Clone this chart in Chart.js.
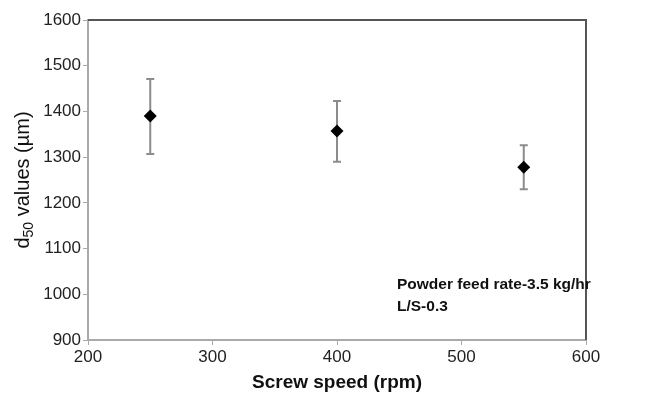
<!DOCTYPE html>
<html>
<head>
<meta charset="utf-8">
<script src="https://cdn.jsdelivr.net/npm/chart.js@4/dist/chart.umd.min.js"></script>
<style>
html,body{margin:0;padding:0;background:#fff;}
#wrap{width:665px;height:395px;position:relative;}
</style>
</head>
<body>
<div id="wrap"><canvas id="c" width="665" height="395"></canvas></div>
<script>
const screwSpeed = [250, 400, 550];
const d50Values = [1390, 1357, 1278];
const errTop = [1471, 1423, 1326];
const errBottom = [1307, 1290, 1230];
const xTicks = [200, 300, 400, 500, 600];
const yTicks = [900, 1000, 1100, 1200, 1300, 1400, 1500, 1600];
const xTitle = 'Screw speed (rpm)';
const yTitleParts = ['d', '50', ' values (µm)'];
const noteLines = ['Powder feed rate-3.5 kg/hr', 'L/S-0.3'];

const FONT = '"Liberation Sans", Arial, sans-serif';

const extras = {
  id: 'extras',
  beforeDatasetsDraw(chart) {
    const ctx = chart.ctx, xs = chart.scales.x, ys = chart.scales.y;
    ctx.save();
    ctx.strokeStyle = '#8c8c8c';
    ctx.lineWidth = 2;
    for (let i = 0; i < screwSpeed.length; i++) {
      const x = xs.getPixelForValue(screwSpeed[i]);
      const yt = ys.getPixelForValue(errTop[i]);
      const yb = ys.getPixelForValue(errBottom[i]);
      ctx.beginPath();
      ctx.moveTo(x, yt); ctx.lineTo(x, yb);
      ctx.moveTo(x - 4, yt); ctx.lineTo(x + 4, yt);
      ctx.moveTo(x - 4, yb); ctx.lineTo(x + 4, yb);
      ctx.stroke();
    }
    ctx.restore();
  },
  afterDraw(chart) {
    const ctx = chart.ctx, a = chart.chartArea;
    ctx.save();
    // top & right frame
    ctx.strokeStyle = '#555555';
    ctx.lineWidth = 2;
    ctx.beginPath();
    ctx.moveTo(a.left, a.top); ctx.lineTo(a.right, a.top); ctx.lineTo(a.right, a.bottom);
    ctx.stroke();
    // y title with subscript
    ctx.fillStyle = '#111';
    ctx.translate(29, (a.top + a.bottom) / 2);
    ctx.rotate(-Math.PI / 2);
    ctx.textBaseline = 'alphabetic';
    const big = '20px ' + FONT, small = '14px ' + FONT;
    ctx.font = big; const w1 = ctx.measureText(yTitleParts[0]).width;
    const w3 = ctx.measureText(yTitleParts[2]).width;
    ctx.font = small; const w2 = ctx.measureText(yTitleParts[1]).width;
    let x0 = -(w1 + w2 + w3) / 2;
    ctx.font = big; ctx.fillText(yTitleParts[0], x0, 0);
    ctx.font = small; ctx.fillText(yTitleParts[1], x0 + w1, 4);
    ctx.font = big; ctx.fillText(yTitleParts[2], x0 + w1 + w2, 0);
    ctx.restore();
    // x title
    ctx.save();
    ctx.fillStyle = '#111';
    ctx.font = 'bold 19px ' + FONT;
    ctx.textAlign = 'center';
    ctx.textBaseline = 'middle';
    ctx.fillText(xTitle, (a.left + a.right) / 2, 383);
    // note
    ctx.font = 'bold 15.5px ' + FONT;
    ctx.textAlign = 'left';
    ctx.textBaseline = 'alphabetic';
    ctx.fillText(noteLines[0], 397, 289);
    ctx.fillText(noteLines[1], 397, 311);
    ctx.restore();
  }
};

new Chart(document.getElementById('c'), {
  type: 'scatter',
  data: {
    datasets: [{
      data: screwSpeed.map((x, i) => ({ x: x, y: d50Values[i] })),
      pointStyle: 'rectRot',
      pointRadius: 6.5,
      pointHoverRadius: 6.5,
      backgroundColor: '#000',
      borderColor: '#000',
      borderWidth: 0
    }]
  },
  options: {
    responsive: false,
    animation: false,
    events: [],
    layout: { padding: { left: 0, right: 79, top: 20, bottom: 0 } },
    plugins: { legend: { display: false }, tooltip: { enabled: false } },
    scales: {
      x: {
        type: 'linear', min: 200, max: 600,
        afterBuildTicks(s) { s.ticks = xTicks.map(v => ({ value: v })); },
        afterFit(s) { s.height = 55; },
        grid: { drawOnChartArea: false, tickLength: 5, color: '#aaaaaa', lineWidth: 1 },
        border: { color: '#aaaaaa', width: 2 },
        ticks: { color: '#222', font: { family: FONT, size: 17 }, padding: 2, maxRotation: 0,
                 callback: v => String(v) }
      },
      y: {
        type: 'linear', min: 900, max: 1600,
        afterBuildTicks(s) { s.ticks = yTicks.map(v => ({ value: v })); },
        afterFit(s) { s.width = 88; },
        grid: { drawOnChartArea: false, tickLength: 5, color: '#aaaaaa', lineWidth: 1 },
        border: { color: '#aaaaaa', width: 2 },
        ticks: { color: '#222', font: { family: FONT, size: 17 }, padding: 2,
                 callback: v => String(v) }
      }
    }
  },
  plugins: [extras]
});
</script>
</body>
</html>
